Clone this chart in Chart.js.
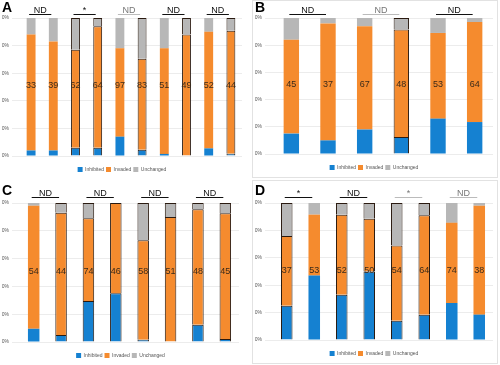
<!DOCTYPE html>
<html lang="en">
<head>
<meta charset="UTF-8">
<title>Stacked outcome bars</title>
<script src="https://cdn.jsdelivr.net/npm/chart.js"></script>
<style>
  body { margin: 0; background: #fff; font-family: Arial, "Liberation Sans", sans-serif; }
  .panel { position: absolute; background: #fff; }
  .boxed { border: 1px solid #e2e2e2; box-sizing: border-box; }
</style>
</head>
<body>
<div class="panel" style="left:0;top:0;width:248px;height:178px"><canvas id="chartA"></canvas></div>
<div class="panel boxed" style="left:252px;top:0;width:246px;height:178px"><canvas id="chartB"></canvas></div>
<div class="panel" style="left:0;top:180px;width:248px;height:184px"><canvas id="chartC"></canvas></div>
<div class="panel boxed" style="left:252px;top:180px;width:246px;height:184px"><canvas id="chartD"></canvas></div>
<script>
// legend names
const seriesNames = ['Inhibited', 'Invaded', 'Unchanged'];
const yTicks = ['0%', '20%', '40%', '60%', '80%', '100%'];

// panel A
const labelsA = ['ab5-100', 'ab5-200', 'ect3-100', 'ect3-200', 'fm1-100', 'fm1-200', 'dk1-100', 'dk1-200', 'rt5-100', 'rt5-200'];
const blueA = [4, 4, 6, 6, 14, 4.5, 1.5, 0, 5.5, 1.7];
const orangeA = [84, 79, 71, 88, 64, 66, 76.5, 88, 84.5, 89];
const grayA = [12, 17, 23, 6, 22, 29.5, 22, 12, 10, 9.3];
const numsA = ['33', '39', '62', '64', '97', '83', '51', '49', '52', '44'];
const sigA = ['ND', '*', 'ND', 'ND', 'ND'];
const sigColA = ['#111', '#111', '#bbb', '#111', '#111'];
const outlineA = [0, 0, 1, 1, 0, 1, 0, 1, 0, 1];

// panel B
const labelsB = ['mxc-100', 'mxc-200', 'pax3-100', 'pax3-200', 'dlhp3-100', 'dlhp3-200'];
const blueB = [15, 10, 18, 12.5, 26, 23.5];
const orangeB = [69, 86, 76, 79, 63, 73.5];
const grayB = [16, 4, 6, 8.5, 11, 3];
const numsB = ['45', '37', '67', '48', '53', '64'];
const sigB = ['ND', 'ND', 'ND'];
const sigColB = ['#111', '#bbb', '#111'];
const outlineB = [0, 0, 0, 1, 0, 0];

// panel C
const labelsC = ['bcd4-100', 'bcd4-200', 'ncr4-100', 'ncr4-200', 'dcl1-100', 'dcl1-200', 'dk3-100', 'dk3-200'];
const blueC = [9.5, 5, 29.5, 35, 1.7, 0, 12.5, 2.2];
const orangeC = [88.5, 88, 59.5, 65, 71.5, 90, 83, 90.5];
const grayC = [2, 7, 11, 0, 26.8, 10, 4.5, 7.3];
const numsC = ['54', '44', '74', '46', '58', '51', '48', '45'];
const sigC = ['ND', 'ND', 'ND', 'ND'];
const sigColC = ['#111', '#111', '#111', '#111'];
const outlineC = [0, 1, 1, 1, 1, 1, 1, 1];

// panel D
const labelsD = ['h2t-100', 'ab5-200', 'lrch-100', 'lrch-200', 'kp11-100', 'kp11-200', 'kp9-100', 'kp9-200'];
const blueD = [25, 47, 33, 50, 14, 18.5, 27, 18.5];
const orangeD = [51, 44.5, 58.5, 38.5, 55, 72.5, 58.5, 79.5];
const grayD = [24, 8.5, 8.5, 11.5, 31, 9, 14.5, 2];
const numsD = ['37', '53', '52', '50', '54', '64', '74', '38'];
const sigD = ['*', 'ND', '*', 'ND'];
const sigColD = ['#111', '#111', '#bbb', '#bbb'];
const outlineD = [1, 0, 1, 1, 1, 1, 0, 0];

const BLUE = '#1581d1', ORANGE = '#f58b2e', GRAY = '#b7b7b7';

const overlay = {
  id: 'overlay',
  afterDatasetsDraw(chart, args, opts) {
    const ctx = chart.ctx;
    const xs = chart.scales.x, ys = chart.scales.y;
    const top = chart.chartArea.top;
    ctx.save();
    // counts inside the orange segment
    ctx.fillStyle = '#3a2a1a';
    ctx.font = '9px Arial, "Liberation Sans"';
    ctx.textAlign = 'center';
    ctx.textBaseline = 'middle';
    opts.nums.forEach((n, i) => {
      ctx.fillText(n, xs.getPixelForValue(i), ys.getPixelForValue(51));
    });
    // significance brackets
    opts.sig.forEach((s, k) => {
      const x1 = xs.getPixelForValue(2 * k) - 2;
      const x2 = xs.getPixelForValue(2 * k + 1) - 2;
      const ly = top - opts.gap;
      ctx.strokeStyle = opts.sigCol[k];
      ctx.lineWidth = 1;
      ctx.beginPath();
      ctx.moveTo(x1, ly + 0.5);
      ctx.lineTo(x2, ly + 0.5);
      ctx.stroke();
      ctx.fillStyle = opts.sigCol[k] === '#bbb' ? '#777' : '#111';
      ctx.font = '9px Arial, "Liberation Sans"';
      ctx.textBaseline = 'alphabetic';
      ctx.fillText(s, (x1 + x2) / 2, ly - 1.5);
    });
    // panel letter
    ctx.fillStyle = '#000';
    ctx.font = 'bold 14px Arial, "Liberation Sans"';
    ctx.textAlign = 'left';
    ctx.textBaseline = 'top';
    ctx.fillText(opts.letter, 2, opts.letterY);
    ctx.restore();
  }
};

function makePanel(id, letter, labels, blue, orange, gray, nums, sig, sigCol, outline, cfg) {
  const edge = outline.map(o => o ? '#2a1a10' : 'rgba(0,0,0,0)');
  const bw = outline.map(o => o ? 1 : 0);
  const ds = (label, data, color) => ({
    label: label, data: data, backgroundColor: color,
    borderColor: edge, borderWidth: bw,
    barPercentage: cfg.bar, categoryPercentage: 1
  });
  new Chart(document.getElementById(id), {
    type: 'bar',
    data: {
      labels: labels,
      datasets: [ds(seriesNames[0], blue, BLUE), ds(seriesNames[1], orange, ORANGE), ds(seriesNames[2], gray, GRAY)]
    },
    options: {
      responsive: true,
      maintainAspectRatio: false,
      animation: false,
      layout: { padding: { top: cfg.top, left: 2, right: cfg.right, bottom: cfg.bottom } },
      plugins: {
        legend: {
          position: 'bottom',
          labels: {
            boxWidth: 5, boxHeight: 5, padding: 2, font: { size: 5 }, color: '#555',
            generateLabels: chart => Chart.defaults.plugins.legend.labels.generateLabels(chart)
              .map(item => Object.assign(item, { lineWidth: 0, strokeStyle: item.fillStyle }))
          }
        },
        tooltip: { enabled: false },
        overlay: { nums: nums, sig: sig, sigCol: sigCol, letter: letter, gap: cfg.gap, letterY: cfg.letterY }
      },
      scales: {
        x: {
          stacked: true,
          afterFit: s => { s.height = 9; },
          grid: { display: false },
          border: { display: false },
          ticks: { font: { size: 5 }, color: '#555', maxRotation: 0, autoSkip: false, padding: 3 }
        },
        y: {
          stacked: true,
          min: 0, max: 100,
          afterFit: s => { s.width = 18; },
          grid: { color: '#ececec' },
          border: { display: false },
          ticks: { stepSize: 20, font: { size: 5 }, color: '#555', padding: 3,
                   callback: (v, i) => yTicks[i] }
        }
      }
    },
    plugins: [overlay]
  });
}

makePanel('chartA', 'A', labelsA, blueA, orangeA, grayA, numsA, sigA, sigColA, outlineA,
  { bar: 0.4, top: 18, right: 6, bottom: -4, gap: 4, letterY: 1 });
makePanel('chartB', 'B', labelsB, blueB, orangeB, grayB, numsB, sigB, sigColB, outlineB,
  { bar: 0.42, top: 17, right: 4, bottom: -3, gap: 4, letterY: 0 });
makePanel('chartC', 'C', labelsC, blueC, orangeC, grayC, numsC, sigC, sigColC, outlineC,
  { bar: 0.42, top: 23, right: 9, bottom: -4, gap: 6, letterY: 4 });
makePanel('chartD', 'D', labelsD, blueD, orangeD, grayD, numsD, sigD, sigColD, outlineD,
  { bar: 0.42, top: 22, right: 4, bottom: -3, gap: 6, letterY: 3 });
</script>
</body>
</html>
